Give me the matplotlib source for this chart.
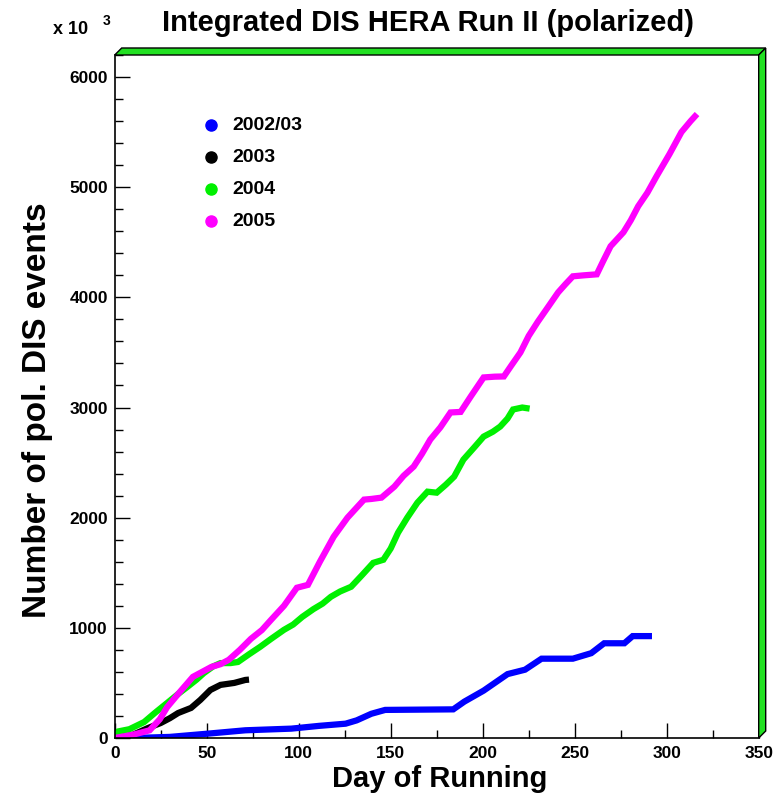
import matplotlib.pyplot as plt
from matplotlib.patches import Polygon
from matplotlib.ticker import MultipleLocator

W, H = 778, 802

# cumulative polarized DIS events (x 10^3) vs day of running
days_0203 = [0, 10, 30, 51, 71, 96, 111, 125.5, 131.5, 139.5, 147, 184, 190, 200.5, 213.5, 223, 232, 249, 259, 266, 277, 281.5, 292]
evts_0203 = [0, 0, 10, 40, 70, 85, 110, 130, 160, 220, 255, 260, 330, 430, 580, 620, 720, 720, 770, 860, 860, 925, 925]

days_2003 = [0, 10, 18, 25, 30, 34.5, 41.5, 46.5, 52, 57.5, 65, 71, 73]
evts_2003 = [0, 30, 90, 136, 180, 227, 273, 345, 436, 482, 500, 527, 530]

days_2004 = [0, 2, 8, 16, 22, 28.5, 34.5, 39.5, 44.5, 48.5, 53.5, 57.5, 63, 67, 73, 79, 85, 92, 97, 102, 108, 113,
             117.5, 122.5, 128.5, 134.5, 140.5, 146, 150, 154, 159, 164.5, 170, 175, 180, 184.5, 189.5, 195.5, 200.5,
             205.5, 209.5, 213.5, 216.5, 221.5, 225.5]
evts_2004 = [0, 60, 80, 145, 230, 318, 400, 464, 530, 590, 650, 680, 680, 690, 760, 827, 900, 982, 1030, 1100, 1170,
             1220, 1282, 1330, 1373, 1480, 1590, 1618, 1720, 1864, 2000, 2136, 2236, 2227, 2300, 2373, 2527, 2640,
             2736, 2780, 2827, 2900, 2982, 3000, 2990]

days_2005 = [0, 10, 19, 24.5, 28.5, 35.5, 42.5, 47.5, 52.5, 57.5, 62, 68, 74, 80, 85, 92, 99, 105, 111.5, 119, 126.5,
             135.5, 139.5, 145, 152, 157, 162.5, 167, 171.5, 177, 182.5, 188, 193.5, 200.5, 206.5, 211.5, 215.5, 220.5,
             225, 230, 235, 241, 245, 249, 255, 262, 265.5, 269.5, 276.5, 280.5, 284.5, 289.5, 294.5, 301.5, 308,
             313, 316.5]
evts_2005 = [0, 30, 70, 170, 280, 420, 555, 600, 645, 670, 710, 800, 900, 980, 1073, 1200, 1364, 1390, 1600, 1827,
             2000, 2164, 2170, 2182, 2282, 2380, 2464, 2580, 2709, 2820, 2955, 2960, 3100, 3273, 3280, 3282, 3380,
             3500, 3650, 3780, 3900, 4045, 4120, 4191, 4200, 4209, 4330, 4464, 4591, 4700, 4827, 4950, 5100, 5300,
             5500, 5600, 5664]

labels = ['2002/03', '2003', '2004', '2005']
colors = ['#0000ff', '#000000', '#00f000', '#ff00ff']

plt.rcParams['font.family'] = ['Liberation Sans', 'DejaVu Sans']
plt.rcParams['font.weight'] = 'bold'


def fx(x):
    return x / W


def fy(y):
    return 1 - y / H


fig = plt.figure(figsize=(W / 100, H / 100), dpi=100)
x0, x1, ytop, ybot = 114.7, 758.7, 55, 738
ax = fig.add_axes([fx(x0), fy(ybot), (x1 - x0) / W, (ybot - ytop) / H])

series = [(days_0203, evts_0203), (days_2003, evts_2003), (days_2004, evts_2004), (days_2005, evts_2005)]
for (d, v), c, lab in zip(series, colors, labels):
    ax.plot(d, v, color=c, lw=4.5, solid_joinstyle='miter', solid_capstyle='butt', label=lab)

ax.set_xlim(0, 350)
ax.set_ylim(0, 6200)
ax.xaxis.set_major_locator(MultipleLocator(50))
ax.xaxis.set_minor_locator(MultipleLocator(25))
ax.yaxis.set_major_locator(MultipleLocator(1000))
ax.yaxis.set_minor_locator(MultipleLocator(200))
ax.tick_params(which='both', direction='in', top=False, right=False, width=1, colors='black')
ax.tick_params(which='major', length=11, labelsize=12.5)
ax.tick_params(axis='y', which='major', pad=5)
ax.tick_params(axis='x', which='major', pad=6)
ax.tick_params(which='minor', length=6)
for s in ['top', 'right']:
    ax.spines[s].set_visible(False)
for s in ['left', 'bottom']:
    ax.spines[s].set_linewidth(1.2)

# 3d-looking green frame on top and right
d = 7
top_bar = [(x0, ytop), (x0 + d, ytop - d), (x1 + d, ytop - d), (x1, ytop)]
right_bar = [(x1, ytop), (x1 + d, ytop - d), (x1 + d, ybot - d), (x1, ybot)]
for poly in (top_bar, right_bar):
    fig.add_artist(Polygon([(fx(a), fy(b)) for a, b in poly], closed=True, facecolor='#22e022',
                           edgecolor='black', lw=1, transform=fig.transFigure))

# legend
for i, (c, lab) in enumerate(zip(colors, labels)):
    yy = 125 + 32 * i
    fig.add_artist(plt.Line2D([fx(211)], [fy(yy)], marker='o', ms=8, color=c, transform=fig.transFigure))
    fig.text(fx(232), fy(yy), lab, fontsize=14, va='center', ha='left')

fig.text(fx(428), fy(23), 'Integrated DIS HERA Run II (polarized)', fontsize=21, ha='center', va='center')
fig.text(fx(53), fy(29), 'x 10', fontsize=13, ha='left', va='center')
fig.text(fx(103), fy(21), '3', fontsize=10, ha='left', va='center')
fig.text(fx(440), fy(779), 'Day of Running', fontsize=21, ha='center', va='center')
fig.text(fx(38), fy(410), 'Number of pol. DIS events', fontsize=24, ha='center', va='center', rotation=90)

fig.savefig('out.png', dpi=100)
